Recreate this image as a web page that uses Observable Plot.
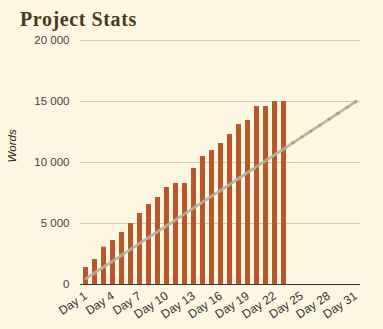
<!DOCTYPE html>
<html>
<head>
<meta charset="utf-8">
<script src="https://cdn.jsdelivr.net/npm/d3@7"></script>
<script src="https://cdn.jsdelivr.net/npm/@observablehq/plot@0.6"></script>
<style>
  html, body { margin: 0; padding: 0; background: #fdf6e1; width: 383px; height: 329px; overflow: hidden; }
  #title { height: 32px; box-sizing: border-box; padding: 9px 0 0 20px; font-family: "Liberation Serif", serif; font-weight: bold; font-size: 20px; letter-spacing: 0.6px; color: #4a3a18; line-height: 20px; }
  #chart svg { display: block; }
</style>
</head>
<body>
<div id="title">Project Stats</div>
<div id="chart"></div>
<script>
const days = d3.range(1, 32).map(d => "Day " + d);
const words = [1400, 2050, 3060, 3600, 4260, 5000, 5820, 6560, 7130, 7950, 8280, 8280, 9510, 10490, 10980, 11560, 12300, 13110, 13440, 14590, 14590, 15000, 15000];
const target = [484, 968, 1452, 1935, 2419, 2903, 3387, 3871, 4355, 4839, 5323, 5806, 6290, 6774, 7258, 7742, 8226, 8710, 9194, 9677, 10161, 10645, 11129, 11613, 12097, 12581, 13065, 13548, 14032, 14516, 15000];
const yTicks = [0, 5000, 10000, 15000, 20000];
const xTicks = days.filter((d, i) => i % 3 === 0);

const barData = words.map((w, i) => ({day: days[i], words: w}));
const lineData = target.map((t, i) => ({day: days[i], target: t}));
const fmt = v => d3.format(",")(v).replace(/,/g, " ");

const chart = Plot.plot({
  width: 383,
  height: 297,
  marginTop: 8,
  marginBottom: 45,
  marginLeft: 80,
  marginRight: 23,
  style: {background: "transparent", fontFamily: "Liberation Sans, Arial, sans-serif", fontSize: "11px", color: "#444"},
  x: {type: "band", domain: days, paddingInner: 0.45, paddingOuter: 0.2, label: null},
  y: {domain: [0, 20000], label: null},
  marks: [
    Plot.gridY(yTicks, {stroke: "#cfc8b3", strokeOpacity: 1}),
    Plot.axisY(yTicks, {tickSize: 0, tickPadding: 11, tickFormat: fmt, fill: "#444", fontSize: 11.5, label: null}),
    Plot.axisX(xTicks, {tickSize: 0, tickRotate: -34, tickPadding: 10, fill: "#333", fontSize: 12, label: null}),
    Plot.barY(barData, {x: "day", y: "words", fill: "#b9562b"}),
    Plot.ruleY([0], {stroke: "#333", strokeWidth: 1}),
    Plot.lineY(lineData, {x: "day", y: "target", stroke: "#bcb6a0", strokeWidth: 2.8}),
    Plot.dot(lineData, {x: "day", y: "target", fill: "#a9a38d", r: 1.7}),
    Plot.text(["Words"], {frameAnchor: "left", dx: -68, rotate: -90, fontStyle: "italic", fontSize: 11.5, fill: "#222"})
  ]
});
document.getElementById("chart").appendChild(chart);
</script>
</body>
</html>
